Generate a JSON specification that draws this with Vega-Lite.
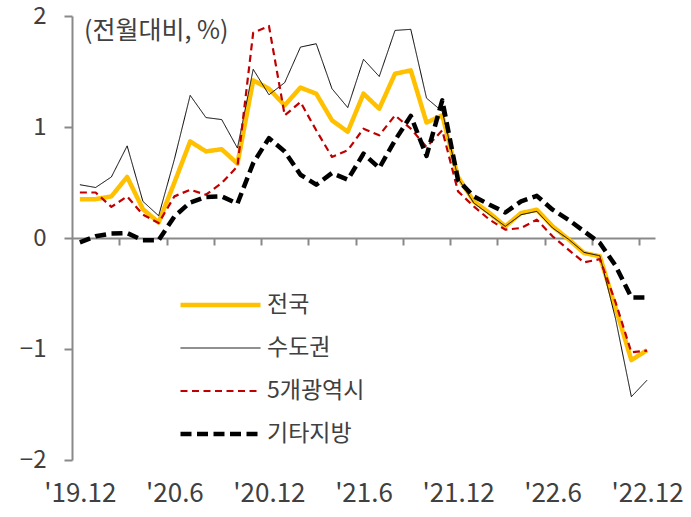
{
  "$schema": "https://vega.github.io/schema/vega-lite/v6.json",
  "autosize": {"type": "none"},
  "width": 583,
  "height": 444,
  "padding": {"left": 72, "top": 16, "right": 36, "bottom": 57},
  "background": "white",
  "title": {"text": "(전월대비, %)", "anchor": "start", "frame": "group", "fontSize": 25, "fontWeight": "normal", "color": "#404040", "dx": 12, "dy": 60, "offset": 0, "baseline": "alphabetic"},
  "config": {
    "view": {"stroke": null},
    "font": "Noto Sans CJK KR",
    "legend": {"orient": "none", "legendX": 106, "legendY": 278, "title": null, "symbolType": "stroke", "symbolSize": 6400, "clipHeight": 22, "rowPadding": 20, "labelFontSize": 23, "labelColor": "#404040", "labelOffset": 4, "padding": 0, "labelFont": "Noto Sans CJK KR"}
  },
  "data": {"values": [
    {"i": 0, "전국": 0.35, "수도권": 0.48, "5개광역시": 0.41, "기타지방": -0.04},
    {"i": 1, "전국": 0.35, "수도권": 0.455, "5개광역시": 0.41, "기타지방": 0.015},
    {"i": 2, "전국": 0.375, "수도권": 0.55, "5개광역시": 0.28, "기타지방": 0.04},
    {"i": 3, "전국": 0.55, "수도권": 0.83, "5개광역시": 0.375, "기타지방": 0.045},
    {"i": 4, "전국": 0.26, "수도권": 0.33, "5개광역시": 0.21, "기타지방": -0.02},
    {"i": 5, "전국": 0.14, "수도권": 0.2, "5개광역시": 0.135, "기타지방": -0.02},
    {"i": 6, "전국": 0.5, "수도권": 0.71, "5개광역시": 0.375, "기타지방": 0.195},
    {"i": 7, "전국": 0.87, "수도권": 1.285, "5개광역시": 0.435, "기타지방": 0.32},
    {"i": 8, "전국": 0.78, "수도권": 1.085, "5개광역시": 0.39, "기타지방": 0.37},
    {"i": 9, "전국": 0.8, "수도권": 1.067, "5개광역시": 0.495, "기타지방": 0.375},
    {"i": 10, "전국": 0.67, "수도권": 0.81, "5개광역시": 0.645, "기타지방": 0.31},
    {"i": 11, "전국": 1.42, "수도권": 1.52, "5개광역시": 1.85, "기타지방": 0.675},
    {"i": 12, "전국": 1.345, "수도권": 1.29, "5개광역시": 1.91, "기타지방": 0.9},
    {"i": 13, "전국": 1.195, "수도권": 1.4, "5개광역시": 1.105, "기타지방": 0.78},
    {"i": 14, "전국": 1.355, "수도권": 1.72, "5개광역시": 1.225, "기타지방": 0.57},
    {"i": 15, "전국": 1.3, "수도권": 1.75, "5개광역시": 0.97, "기타지방": 0.48},
    {"i": 16, "전국": 1.06, "수도권": 1.345, "5개광역시": 0.73, "기타지방": 0.585},
    {"i": 17, "전국": 0.957, "수도권": 1.175, "5개광역시": 0.79, "기타지방": 0.525},
    {"i": 18, "전국": 1.3, "수도권": 1.61, "5개광역시": 0.985, "기타지방": 0.76},
    {"i": 19, "전국": 1.165, "수도권": 1.455, "5개광역시": 0.925, "기타지방": 0.63},
    {"i": 20, "전국": 1.48, "수도권": 1.87, "5개광역시": 1.105, "기타지방": 0.88},
    {"i": 21, "전국": 1.51, "수도권": 1.88, "5개광역시": 0.985, "기타지방": 1.1},
    {"i": 22, "전국": 1.04, "수도권": 1.26, "5개광역시": 0.82, "기타지방": 0.74},
    {"i": 23, "전국": 1.105, "수도권": 1.14, "5개광역시": 0.97, "기타지방": 1.24},
    {"i": 24, "전국": 0.55, "수도권": 0.54, "5개광역시": 0.42, "기타지방": 0.52},
    {"i": 25, "전국": 0.33, "수도권": 0.315, "5개광역시": 0.285, "기타지방": 0.375},
    {"i": 26, "전국": 0.225, "수도권": 0.21, "5개광역시": 0.165, "기타지방": 0.3},
    {"i": 27, "전국": 0.105, "수도권": 0.105, "5개광역시": 0.075, "기타지방": 0.23},
    {"i": 28, "전국": 0.225, "수도권": 0.21, "5개광역시": 0.09, "기타지방": 0.33},
    {"i": 29, "전국": 0.255, "수도권": 0.24, "5개광역시": 0.165, "기타지방": 0.38},
    {"i": 30, "전국": 0.105, "수도권": 0.09, "5개광역시": 0.015, "기타지방": 0.255},
    {"i": 31, "전국": -0.01, "수도권": -0.01, "5개광역시": -0.105, "기타지방": 0.165},
    {"i": 32, "전국": -0.135, "수도권": -0.13, "5개광역시": -0.22, "기타지방": 0.06},
    {"i": 33, "전국": -0.165, "수도권": -0.16, "5개광역시": -0.19, "기타지방": -0.045},
    {"i": 34, "전국": -0.63, "수도권": -0.73, "5개광역시": -0.58, "기타지방": -0.25},
    {"i": 35, "전국": -1.1, "수도권": -1.43, "5개광역시": -1.03, "기타지방": -0.535},
    {"i": 36, "전국": -1.01, "수도권": -1.28, "5개광역시": -1.015, "기타지방": -0.535}
  ]},
  "transform": [{"fold": ["전국", "수도권", "5개광역시", "기타지방"], "as": ["series", "value"]}],
  "mark": {"type": "line", "strokeJoin": "round", "strokeCap": "butt"},
  "encoding": {
    "x": {
      "field": "i", "type": "quantitative",
      "scale": {"domain": [-0.5, 36.5], "nice": false, "zero": false},
      "axis": {
        "values": [0, 2.5, 5.5, 6, 8.5, 11.5, 12, 14.5, 17.5, 18, 20.5, 23.5, 24, 26.5, 29.5, 30, 32.5, 35.5, 36],
        "offset": -222,
        "domainColor": "#898989", "domainWidth": 2,
        "tickColor": "#898989", "tickWidth": 2, "tickSize": 7,
        "tickOpacity": {"condition": {"test": "datum.value % 1 === 0", "value": 0}, "value": 1},
        "labelExpr": "datum.value % 6 === 0 ? \"'\" + (19 + floor((datum.value + 11) / 12)) + '.' + ((datum.value + 11) % 12 + 1) : ''",
        "labelPadding": 235,
        "labelFontSize": 26, "labelColor": "#404040",
        "labelOverlap": false, "labelFlush": false, "labelBound": false,
        "grid": false, "title": null
      }
    },
    "y": {
      "field": "value", "type": "quantitative",
      "scale": {"domain": [-2, 2], "nice": false},
      "axis": {
        "values": [-2, -1, 0, 1, 2],
        "domainColor": "#898989", "domainWidth": 2,
        "tickColor": "#898989", "tickWidth": 2, "tickSize": 8,
        "labelPadding": 18, "labelFontSize": 24, "labelColor": "#404040",
        "grid": false, "title": null
      }
    },
    "color": {"field": "series", "type": "nominal", "scale": {"domain": ["전국", "수도권", "5개광역시", "기타지방"], "range": ["#FFC000", "#000000", "#C00000", "#000000"]}},
    "strokeDash": {"field": "series", "type": "nominal", "scale": {"domain": ["전국", "수도권", "5개광역시", "기타지방"], "range": [[1, 0], [1, 0], [7, 4.5], [11, 5.5]]}},
    "strokeWidth": {"field": "series", "type": "nominal", "scale": {"type": "ordinal", "domain": ["전국", "수도권", "5개광역시", "기타지방"], "range": [4.5, 1, 2.2, 4.5]}}
  }
}
